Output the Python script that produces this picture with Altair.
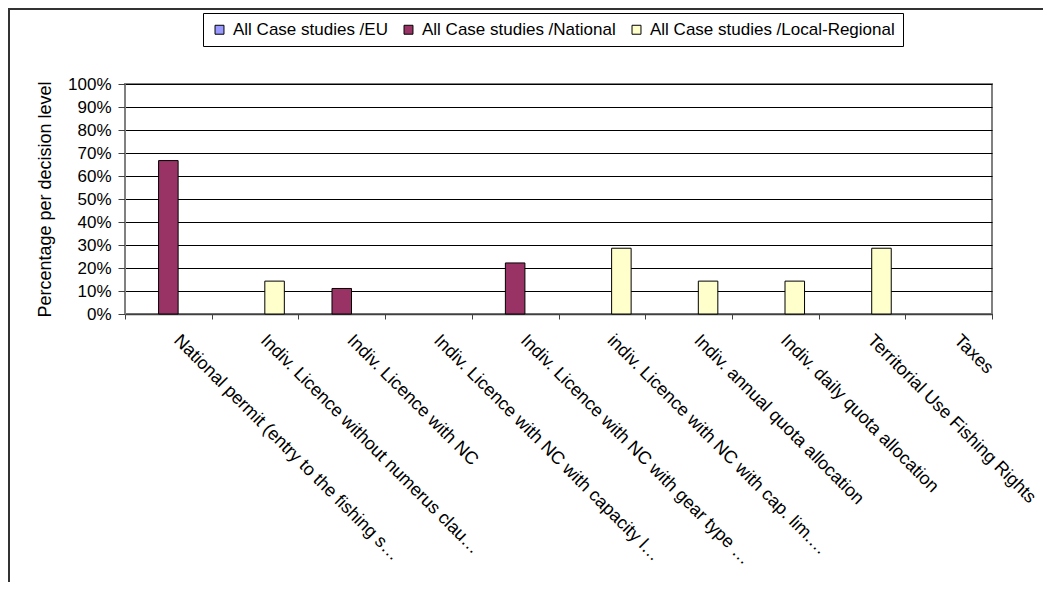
import altair as alt
import pandas as pd

categories = [
    "National permit (entry to the fishing s…",
    "Indiv. Licence without numerus clau…",
    "Indiv. Licence with NC",
    "Indiv. Licence with NC with capacity l…",
    "Indiv. Licence with NC with gear type …",
    "indiv. Licence with NC with cap. lim.…",
    "Indiv. annual quota allocation",
    "Indiv. daily quota allocation",
    "Territorial Use Fishing Rights",
    "Taxes",
]
series_names = [
    "All Case studies /EU",
    "All Case studies /National",
    "All Case studies /Local-Regional",
]
eu_values = [0, 0, 0, 0, 0, 0, 0, 0, 0, 0]
national_values = [0.667, 0, 0.111, 0, 0.222, 0, 0, 0, 0, 0]
local_values = [0, 0.143, 0, 0, 0, 0.286, 0.143, 0.143, 0.286, 0]
series_colors = ["#9999FF", "#993366", "#FFFFCC"]
y_ticks = [0, 0.1, 0.2, 0.3, 0.4, 0.5, 0.6, 0.7, 0.8, 0.9, 1.0]

rows = []
for name, vals in zip(series_names, [eu_values, national_values, local_values]):
    for c, v in zip(categories, vals):
        rows.append({"category": c, "series": name, "value": v})
df = pd.DataFrame(rows)

FONT = "Liberation Sans"

bars = (
    alt.Chart(df)
    .transform_filter("datum.value > 0")
    .mark_bar(stroke="black", strokeWidth=1)
    .encode(
        x=alt.X(
            "category:N",
            sort=categories,
            scale=alt.Scale(domain=categories, paddingInner=0, paddingOuter=0),
            axis=alt.Axis(
                title=None,
                labelAngle=45,
                labelAlign="left",
                labelBaseline="top",
                tickBand="extent",
                labelOffset=14,
                labelPadding=12,
                labelLimit=500,
                labelOverlap=False,
                labelFontSize=18,
                tickSize=5,
                grid=False,
                domainColor="#404040",
                tickColor="#404040",
                domainWidth=1.5,
            ),
        ),
        xOffset=alt.XOffset(
            "series:N",
            sort=series_names,
            scale=alt.Scale(domain=series_names, paddingInner=0, paddingOuter=0.72),
        ),
        y=alt.Y(
            "value:Q",
            scale=alt.Scale(domain=[0, 1]),
            axis=alt.Axis(
                title="Percentage per decision level",
                titleFontSize=18,
                format="%",
                values=y_ticks,
                tickSize=7,
                labelPadding=7,
                titlePadding=13,
                domainColor="#808080",
                tickColor="#404040",
                gridColor="#000000",
                gridWidth=1,
            ),
        ),
        color=alt.Color(
            "series:N",
            scale=alt.Scale(domain=series_names, range=series_colors),
            legend=alt.Legend(
                title=None,
                orient="none",
                legendX=78,
                legendY=-71,
                direction="horizontal",
                strokeColor="black",
                fillColor="white",
                padding=8,
                symbolType="square",
                symbolSize=80,
                symbolStrokeColor="black",
                symbolStrokeWidth=1,
                labelFontSize=17,
                labelFont=FONT,
                labelColor="black",
                columnPadding=12,
                labelOffset=5,
                labelLimit=400,
            ),
        ),
    )
)

frame = (
    alt.Chart(pd.DataFrame({"k": [0]}))
    .mark_rect(fillOpacity=0, stroke="#333333", strokeWidth=2)
    .encode(
        x=alt.value(-116),
        x2=alt.value(1000),
        y=alt.value(-75),
        y2=alt.value(700),
    )
)

chart = (
    alt.layer(frame, bars)
    .properties(
        width=867,
        height=230,
        autosize=alt.AutoSizeParams(type="none"),
        padding={"left": 117, "top": 76, "right": 51, "bottom": 268},
        background="white",
    )
    .configure_view(stroke="#808080", strokeWidth=2)
    .configure_axis(
        labelFont=FONT,
        titleFont=FONT,
        labelFontSize=17,
        titleFontSize=17,
        labelColor="black",
        titleColor="black",
        titleFontWeight="normal",
    )
)

chart.save("out.html", embed_options={"renderer": "svg", "actions": False})
